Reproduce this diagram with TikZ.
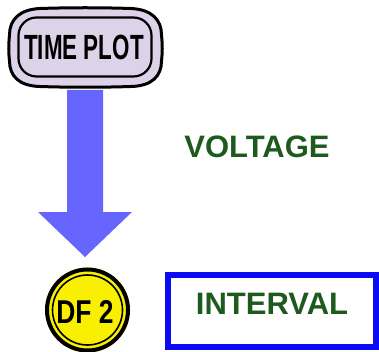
\documentclass[tikz,border=0pt]{standalone}
\usepackage{fontspec}
\setmainfont{Liberation Sans}
\definecolor{lav}{HTML}{DDD3E8}
\definecolor{arrowblue}{HTML}{6666FF}
\definecolor{dgreen}{HTML}{1E5A1E}
\definecolor{boxblue}{HTML}{0A0AF5}
\definecolor{dfyellow}{HTML}{F8F000}
\tikzset{
  labeltext/.style={text=dgreen, font=\fontsize{31}{31}\selectfont\bfseries, inner sep=0pt},
}
\begin{document}
\begin{tikzpicture}[x=1pt,y=-1pt]
\useasboundingbox (0,0) rectangle (379,352);
% TIME PLOT button (outer, with slightly bulging sides)
\draw[line width=3, fill=lav]
  (40,8.5) .. controls (70,7.5) and (100,7.5) .. (131,8.5)
  .. controls (152,9.5) and (161.5,20) .. (161.5,35)
  .. controls (162.5,45) and (162.5,52) .. (161.5,61)
  .. controls (161.5,76) and (152,86) .. (131,86.5)
  .. controls (100,87.5) and (70,87.5) .. (40,86.5)
  .. controls (19,86) and (9.5,76) .. (9.5,61)
  .. controls (8.5,52) and (8.5,45) .. (9.5,35)
  .. controls (9.5,20) and (19,9.5) .. (40,8.5) -- cycle;
\draw[line width=2.2, rounded corners=18] (18.5,17.5) rectangle (151.5,76.5);
\node[inner sep=0pt, font=\fontsize{35}{35}\selectfont\bfseries, xscale=0.64] (timeplot) at (84,47) {TIME PLOT};
% big arrow
\fill[arrowblue] (67,90) -- (103,90) -- (103,212) -- (132,212) -- (85,257) -- (38,212) -- (67,212) -- cycle;
% labels
\node[labeltext] (voltage) at (257,146.5) {VOLTAGE};
\draw[boxblue, line width=6] (168,275) rectangle (375.5,347);
\node[labeltext] (interval) at (272,304) {INTERVAL};
% DF2 button
\fill[dfyellow] (87.5,310) circle (42.5);
\draw[line width=4] (87.5,310) circle (40.5);
\draw[line width=1.6] (87.5,310) circle (35);
\node[inner sep=0pt, font=\fontsize{33}{33}\selectfont\bfseries, xscale=0.8] (df2) at (85,311.5) {DF 2};
\end{tikzpicture}
\end{document}
